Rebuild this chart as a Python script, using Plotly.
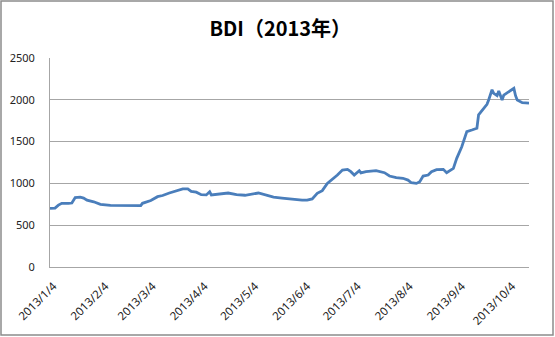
import plotly.graph_objects as go

# ---- data ----
dates = [
    "2013-01-02", "2013-01-05", "2013-01-07", "2013-01-09", "2013-01-13", "2013-01-15",
    "2013-01-17", "2013-01-20", "2013-01-22", "2013-01-24", "2013-01-28", "2013-02-01",
    "2013-02-07", "2013-02-16", "2013-02-25", "2013-02-26", "2013-03-03", "2013-03-07",
    "2013-03-10", "2013-03-14", "2013-03-19", "2013-03-22", "2013-03-25", "2013-03-27",
    "2013-03-30", "2013-04-02", "2013-04-05", "2013-04-07", "2013-04-08", "2013-04-12",
    "2013-04-18", "2013-04-23", "2013-04-28", "2013-05-06", "2013-05-11", "2013-05-15",
    "2013-05-20", "2013-05-25", "2013-05-28", "2013-06-01", "2013-06-04", "2013-06-07",
    "2013-06-10", "2013-06-13", "2013-06-16", "2013-06-19", "2013-06-22", "2013-06-25",
    "2013-06-28", "2013-06-30", "2013-07-02", "2013-07-05", "2013-07-06", "2013-07-09",
    "2013-07-15", "2013-07-20", "2013-07-23", "2013-07-27", "2013-07-31", "2013-08-03",
    "2013-08-05", "2013-08-08", "2013-08-10", "2013-08-12", "2013-08-15", "2013-08-17",
    "2013-08-20", "2013-08-24", "2013-08-26", "2013-08-30", "2013-09-01", "2013-09-04",
    "2013-09-07", "2013-09-10", "2013-09-13", "2013-09-14", "2013-09-17", "2013-09-19",
    "2013-09-20", "2013-09-22", "2013-09-23", "2013-09-25", "2013-09-26", "2013-09-28",
    "2013-09-29", "2013-10-02", "2013-10-05", "2013-10-06", "2013-10-07", "2013-10-10",
    "2013-10-14",
]
bdi = [
    702, 705, 740, 762, 760, 765,
    830, 835, 825, 800, 780, 750,
    738, 735, 735, 762, 795, 841,
    855, 885, 920, 935, 935, 905,
    895, 865, 862, 900, 862, 873,
    885, 866, 858, 885, 862, 835,
    825, 815, 803, 800, 800, 815,
    881, 913, 1000, 1049, 1100, 1160,
    1168, 1140, 1100, 1152, 1125, 1140,
    1152, 1128, 1088, 1068, 1061, 1040,
    1008, 1000, 1020, 1088, 1100, 1140,
    1165, 1168, 1128, 1180, 1300, 1439,
    1620, 1639, 1660, 1820, 1900, 1946,
    1997, 2120, 2077, 2050, 2105, 1997,
    2057, 2097, 2137, 2049, 1997, 1965,
    1960,
]
tick_dates = ["2013-01-04", "2013-02-04", "2013-03-04", "2013-04-04", "2013-05-04",
              "2013-06-04", "2013-07-04", "2013-08-04", "2013-09-04", "2013-10-04"]
tick_labels = ["2013/1/4", "2013/2/4", "2013/3/4", "2013/4/4", "2013/5/4",
               "2013/6/4", "2013/7/4", "2013/8/4", "2013/9/4", "2013/10/4"]
y_ticks = [0, 500, 1000, 1500, 2000, 2500]
title_text = "BDI（2013年）"

W, H = 555, 337
ML, MR, MT, MB = 50, 26, 58, 70
pw, ph = W - ML - MR, H - MT - MB

fig = go.Figure()
fig.add_trace(go.Scatter(
    x=dates, y=bdi, mode="lines",
    line=dict(color="#4a7ebb", width=2.8),
    hoverinfo="skip", showlegend=False,
))

grid = "#a6a6a6"
font_y = dict(family="Noto Sans, Liberation Sans, sans-serif", size=11, color="#222")
font_x = dict(family="Noto Sans, Liberation Sans, sans-serif", size=11.5, color="#222")

fig.update_layout(
    width=W, height=H,
    margin=dict(l=ML, r=MR, t=MT, b=MB, pad=0, autoexpand=False),
    paper_bgcolor="white", plot_bgcolor="white",
    title=dict(
        text="<b>" + title_text + "</b>",
        x=0.505, xanchor="center", y=1 - 29 / H, yanchor="middle",
        font=dict(family="Noto Sans CJK SC, Noto Sans, sans-serif", size=20, color="#000"),
    ),
    xaxis=dict(
        type="date",
        range=[dates[0], dates[-1]],
        tickvals=tick_dates, ticktext=tick_labels,
        tickangle=-45, tickfont=font_x,
        showgrid=False, zeroline=False,
        showline=True, linecolor=grid, linewidth=1,
        ticklabelstandoff=7, automargin=False,
    ),
    yaxis=dict(
        range=[0, 2500], tickvals=y_ticks,
        tickfont=font_y,
        showgrid=True, gridcolor=grid, gridwidth=1,
        zeroline=False,
        showline=True, linecolor=grid, linewidth=1,
        ticklabelstandoff=12, automargin=False,
    ),
    shapes=[dict(
        type="rect", xref="paper", yref="paper",
        x0=(1 - ML) / pw, x1=(W - 2 - ML) / pw,
        y0=-(H - 2 - (MT + ph)) / ph, y1=(MT + ph - 1) / ph,
        line=dict(color="#8c8c8c", width=1.5), fillcolor="rgba(0,0,0,0)",
        layer="below",
    )],
)

fig.write_html("out.html")
